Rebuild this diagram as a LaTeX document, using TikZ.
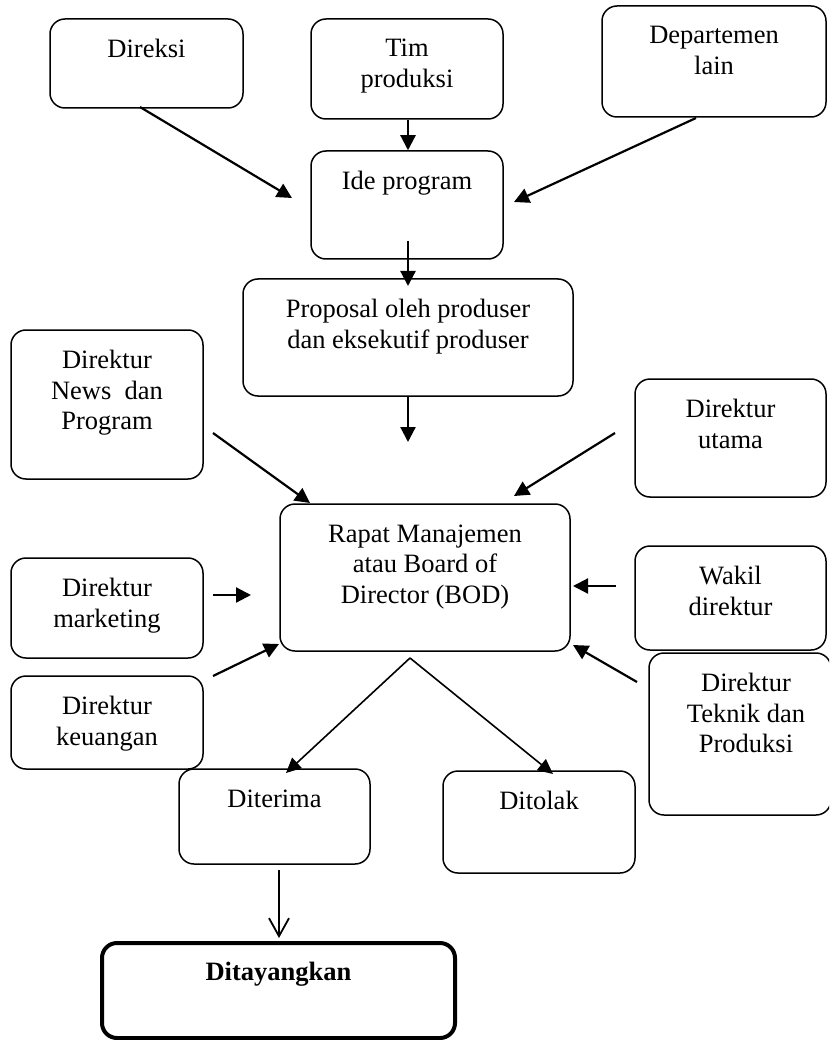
\documentclass[tikz,border=0pt]{standalone}
\usepackage{fontspec}
\setmainfont{Liberation Serif}
\usetikzlibrary{arrows.meta,calc}
\begin{document}
\begin{tikzpicture}[x=1pt,y=-1pt,
  box/.style={draw, line width=1.5pt, rounded corners=15pt, inner sep=0pt},
  lbl/.style={align=center, inner sep=0pt, anchor=north, yshift=-21pt,
              font=\fontsize{26.5}{30.5}\selectfont},
  arr/.style={-{Triangle[length=15pt,width=15pt]}, line width=2.2pt},
  thinarr/.style={-{Triangle[length=15pt,width=14pt]}, line width=1.6pt},
  openarr/.style={-{Straight Barb[length=18pt,width=20pt,line width=1.8pt]}, line width=1.8pt}]
\useasboundingbox (0,0) rectangle (829,1040);
\clip (0,0) rectangle (829,1040);

% boxes
\node[box, minimum width=193pt, minimum height=89pt]  (direksi)  at (146.5,63.5) {};
\node[box, minimum width=192pt, minimum height=100pt] (tim)      at (407,69) {};
\node[box, minimum width=224pt, minimum height=111pt] (dept)     at (714,61.5) {};
\node[box, minimum width=192pt, minimum height=108pt] (ide)      at (407,205) {};
\node[box, minimum width=330pt, minimum height=117pt] (proposal) at (408,337.5) {};
\node[box, minimum width=192pt, minimum height=149pt] (news)     at (107,404.5) {};
\node[box, minimum width=191pt, minimum height=118pt] (utama)    at (730.5,438) {};
\node[box, minimum width=290pt, minimum height=147pt] (rapat)    at (425,577.5) {};
\node[box, minimum width=192pt, minimum height=100pt] (marketing) at (107,608) {};
\node[box, minimum width=191pt, minimum height=104pt] (wakil)    at (730.5,598) {};
\node[box, minimum width=192pt, minimum height=93pt]  (keuangan) at (107,722.5) {};
\node[box, minimum width=182pt, minimum height=162pt] (teknik)   at (740,734) {};
\node[box, minimum width=191pt, minimum height=95pt]  (diterima) at (274.5,816.5) {};
\node[box, minimum width=192pt, minimum height=102pt] (ditolak)  at (539,822) {};
\node[box, line width=4pt, minimum width=353pt, minimum height=95pt] (tayang) at (278.5,990.5) {};

% labels
\node[lbl] (direksiT)  at (direksi.north)  {Direksi};
\node[lbl] (timT)      at (tim.north)      {Tim\\produksi};
\node[lbl] (deptT)     at (dept.north)     {Departemen\\lain};
\node[lbl] (ideT)      at (ide.north)      {Ide program};
\node[lbl] (proposalT) at (proposal.north) {Proposal oleh produser\\dan eksekutif produser};
\node[lbl] (newsT)     at (news.north)     {Direktur\\News\ \ dan\\Program};
\node[lbl] (utamaT)    at (utama.north)    {Direktur\\utama};
\node[lbl] (rapatT)    at (rapat.north)    {Rapat Manajemen\\atau Board of\\Director (BOD)};
\node[lbl] (marketingT) at (marketing.north) {Direktur\\marketing};
\node[lbl] (wakilT)    at (wakil.north)    {Wakil\\direktur};
\node[lbl] (keuanganT) at (keuangan.north) {Direktur\\keuangan};
\node[lbl, xshift=6pt] (teknikT) at (teknik.north) {Direktur\\Teknik dan\\Produksi};
\node[lbl] (diterimaT) at (diterima.north) {Diterima};
\node[lbl] (ditolakT)  at (ditolak.north)  {Ditolak};
\node[lbl, font=\fontsize{26.5}{30.5}\selectfont\bfseries] (tayangT) at (tayang.north) {Ditayangkan};

% loose arrow ends
\coordinate (direksiA) at (140,107);   \coordinate (ideL) at (292,198);
\coordinate (deptA) at (696,118);      \coordinate (ideR) at (514,202);
\coordinate (ideA) at (408,241);       \coordinate (propIn) at (408,286);
\coordinate (propA) at (408,397);      \coordinate (rapatTop) at (408,442);
\coordinate (newsA) at (213,433);      \coordinate (rapatNW) at (310,503);
\coordinate (utamaA) at (615,433);     \coordinate (rapatNE) at (514,496);
\coordinate (marketingA) at (213,595); \coordinate (rapatW) at (251,595);
\coordinate (wakilA) at (616,586);     \coordinate (rapatE) at (573,586);
\coordinate (keuanganA) at (213,676);  \coordinate (rapatSW) at (279,644);
\coordinate (teknikA) at (637,682);    \coordinate (rapatSE) at (573,645);
\coordinate (apex) at (410,658);
\coordinate (diterimaIn) at (286,773); \coordinate (ditolakIn) at (553,774);
\coordinate (diterimaA) at (279,870);  \coordinate (tayangIn) at (279,938);

% connectors
\draw[arr] (direksiA) -- (ideL);
\draw[arr] (tim.south -| ideA) -- (ide.north -| ideA);
\draw[arr] (deptA) -- (ideR);
\draw[arr] (ideA) -- (propIn);
\draw[arr] (propA) -- (rapatTop);
\draw[arr] (newsA) -- (rapatNW);
\draw[arr] (utamaA) -- (rapatNE);
\draw[arr] (marketingA) -- (rapatW);
\draw[arr] (wakilA) -- (rapatE);
\draw[arr] (keuanganA) -- (rapatSW);
\draw[arr] (teknikA) -- (rapatSE);
\draw[thinarr] (apex) -- (diterimaIn);
\draw[thinarr] (apex) -- (ditolakIn);
\draw[openarr] (diterimaA) -- (tayangIn);
\end{tikzpicture}
\end{document}
